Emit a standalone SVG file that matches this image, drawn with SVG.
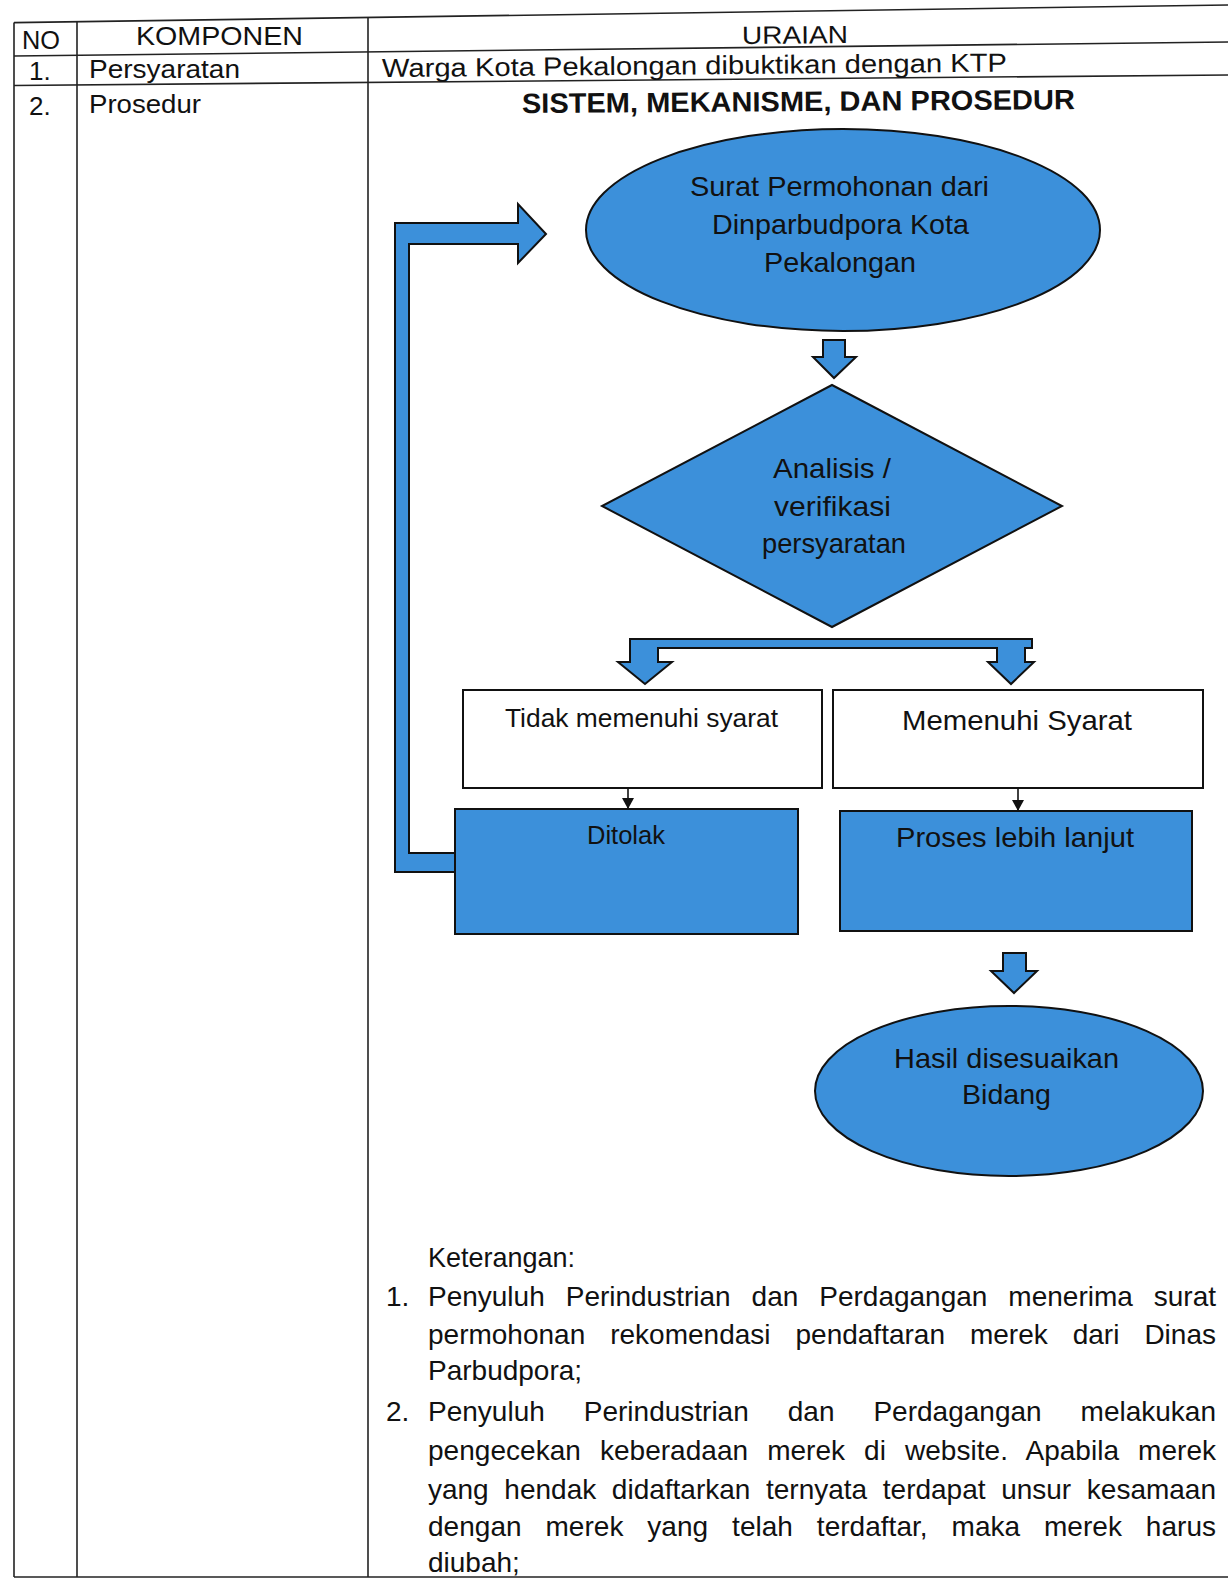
<svg xmlns="http://www.w3.org/2000/svg" width="1228" height="1578" viewBox="0 0 1228 1578">
<defs>
<style>
.t{font-family:"Liberation Sans",Arial,sans-serif;fill:#111;}
.tl{stroke:#222;stroke-width:1.6;fill:none;}
.blue{fill:#3c90da;stroke:#111;stroke-width:2;}
.white{fill:#fff;stroke:#111;stroke-width:2;}
.thin{stroke:#111;stroke-width:1.6;fill:none;}
</style>
<marker id="ah" markerWidth="12" markerHeight="12" refX="10" refY="6" orient="auto" markerUnits="userSpaceOnUse">
<path d="M0,0 L11,6 L0,12 Z" fill="#111"/>
</marker>
</defs>
<rect width="1228" height="1578" fill="#fff"/>

<g id="table">
<line class="tl" x1="14" y1="22.6" x2="1228" y2="5"/>
<line class="tl" x1="14" y1="56" x2="1228" y2="42"/>
<line class="tl" x1="14" y1="85.5" x2="1228" y2="75"/>
<line class="tl" x1="14" y1="22.6" x2="14" y2="1577"/>
<line class="tl" x1="77" y1="21.7" x2="77" y2="1577"/>
<line class="tl" x1="368" y1="17.4" x2="368" y2="1577"/>
<line class="tl" x1="14" y1="1577" x2="1228" y2="1577"/>
<text class="t" x="22" y="49" font-size="26" textLength="38" lengthAdjust="spacingAndGlyphs">NO</text>
<text class="t" x="136" y="45" font-size="26" textLength="167" lengthAdjust="spacingAndGlyphs">KOMPONEN</text>
<text class="t" x="742" y="44" font-size="25" textLength="106" lengthAdjust="spacingAndGlyphs" transform="rotate(-0.5 742 44)">URAIAN</text>
<text class="t" x="29" y="80" font-size="26">1.</text>
<text class="t" x="89" y="78" font-size="26" textLength="151" lengthAdjust="spacingAndGlyphs">Persyaratan</text>
<text class="t" x="382" y="77" font-size="26" textLength="625" lengthAdjust="spacingAndGlyphs" transform="rotate(-0.5 382 77)">Warga Kota Pekalongan dibuktikan dengan KTP</text>
<text class="t" x="29" y="115" font-size="26">2.</text>
<text class="t" x="89" y="113" font-size="26" textLength="112" lengthAdjust="spacingAndGlyphs">Prosedur</text>
<text class="t" x="522" y="113" font-size="28" font-weight="bold" textLength="553" lengthAdjust="spacingAndGlyphs" transform="rotate(-0.4 522 113)">SISTEM, MEKANISME, DAN PROSEDUR</text>
</g>

<g id="connectors">
<polygon id="feedback-arrow" class="blue" points="395,223 518,223 518,204 546,234 518,263 518,244 409,244 409,853 455,853 455,872 395,872"/>
<polygon id="arrow-1" class="blue" points="823,340 845,340 845,357 856,357 834,378 813,357 823,357"/>
<polygon id="split-arrow" class="blue" points="630,639 1032,639 1032,648 1025,648 1025,662 1034,662 1011,684 988,662 997,662 997,648 658,648 658,662 672,662 645,684 618,662 630,662"/>
<line id="arrow-tidak" class="thin" x1="628" y1="788" x2="628" y2="808" marker-end="url(#ah)"/>
<line id="arrow-memenuhi" class="thin" x1="1018" y1="788" x2="1018" y2="810" marker-end="url(#ah)"/>
<polygon id="arrow-3" class="blue" points="1003,953 1026,953 1026,971 1037,971 1014,993 991,971 1003,971"/>
</g>

<g id="node-surat">
<ellipse class="blue" cx="843" cy="230" rx="257" ry="101"/>
<text class="t" x="690" y="196" font-size="28" textLength="299" lengthAdjust="spacingAndGlyphs">Surat Permohonan dari</text>
<text class="t" x="712" y="234" font-size="28" textLength="257" lengthAdjust="spacingAndGlyphs">Dinparbudpora Kota</text>
<text class="t" x="764" y="272" font-size="28" textLength="152" lengthAdjust="spacingAndGlyphs">Pekalongan</text>
</g>

<g id="node-analisis">
<polygon class="blue" points="832,385 1062,506 832,627 602,506"/>
<text class="t" x="773" y="478" font-size="28" textLength="118" lengthAdjust="spacingAndGlyphs">Analisis /</text>
<text class="t" x="774" y="516" font-size="28" textLength="117" lengthAdjust="spacingAndGlyphs">verifikasi</text>
<text class="t" x="762" y="553" font-size="28" textLength="144" lengthAdjust="spacingAndGlyphs">persyaratan</text>
</g>

<g id="node-tidak">
<rect class="white" x="463" y="690" width="359" height="98"/>
<text class="t" x="505" y="727" font-size="26" textLength="273" lengthAdjust="spacingAndGlyphs">Tidak memenuhi syarat</text>
</g>

<g id="node-memenuhi">
<rect class="white" x="833" y="690" width="370" height="98"/>
<text class="t" x="902" y="730" font-size="28" textLength="230" lengthAdjust="spacingAndGlyphs">Memenuhi Syarat</text>
</g>

<g id="node-ditolak">
<rect class="blue" x="455" y="809" width="343" height="125"/>
<text class="t" x="587" y="844" font-size="26" textLength="78" lengthAdjust="spacingAndGlyphs">Ditolak</text>
</g>

<g id="node-proses">
<rect class="blue" x="840" y="811" width="352" height="120"/>
<text class="t" x="896" y="847" font-size="28" textLength="238" lengthAdjust="spacingAndGlyphs">Proses lebih lanjut</text>
</g>

<g id="node-hasil">
<ellipse class="blue" cx="1009" cy="1091" rx="194" ry="85"/>
<text class="t" x="894" y="1068" font-size="28" textLength="225" lengthAdjust="spacingAndGlyphs">Hasil disesuaikan</text>
<text class="t" x="962" y="1104" font-size="28" textLength="89" lengthAdjust="spacingAndGlyphs">Bidang</text>
</g>

<g id="keterangan" font-size="28">
<text class="t" x="428" y="1267" textLength="147" lengthAdjust="spacingAndGlyphs">Keterangan:</text>
<text class="t" x="386" y="1306">1.</text>
<text class="t" x="428" y="1306" word-spacing="13.2" textLength="788" lengthAdjust="spacing">Penyuluh Perindustrian dan Perdagangan menerima surat</text>
<text class="t" x="428" y="1344" word-spacing="17.2" textLength="788" lengthAdjust="spacing">permohonan rekomendasi pendaftaran merek dari Dinas</text>
<text class="t" x="428" y="1380">Parbudpora;</text>
<text class="t" x="386" y="1421">2.</text>
<text class="t" x="428" y="1421" word-spacing="31.2" textLength="788" lengthAdjust="spacing">Penyuluh Perindustrian dan Perdagangan melakukan</text>
<text class="t" x="428" y="1460" word-spacing="11.2" textLength="788" lengthAdjust="spacing">pengecekan keberadaan merek di website. Apabila merek</text>
<text class="t" x="428" y="1499" word-spacing="7.9" textLength="788" lengthAdjust="spacing">yang hendak didaftarkan ternyata terdapat unsur kesamaan</text>
<text class="t" x="428" y="1536" word-spacing="16.1" textLength="788" lengthAdjust="spacing">dengan merek yang telah terdaftar, maka merek harus</text>
<text class="t" x="428" y="1572">diubah;</text>
</g>
</svg>
